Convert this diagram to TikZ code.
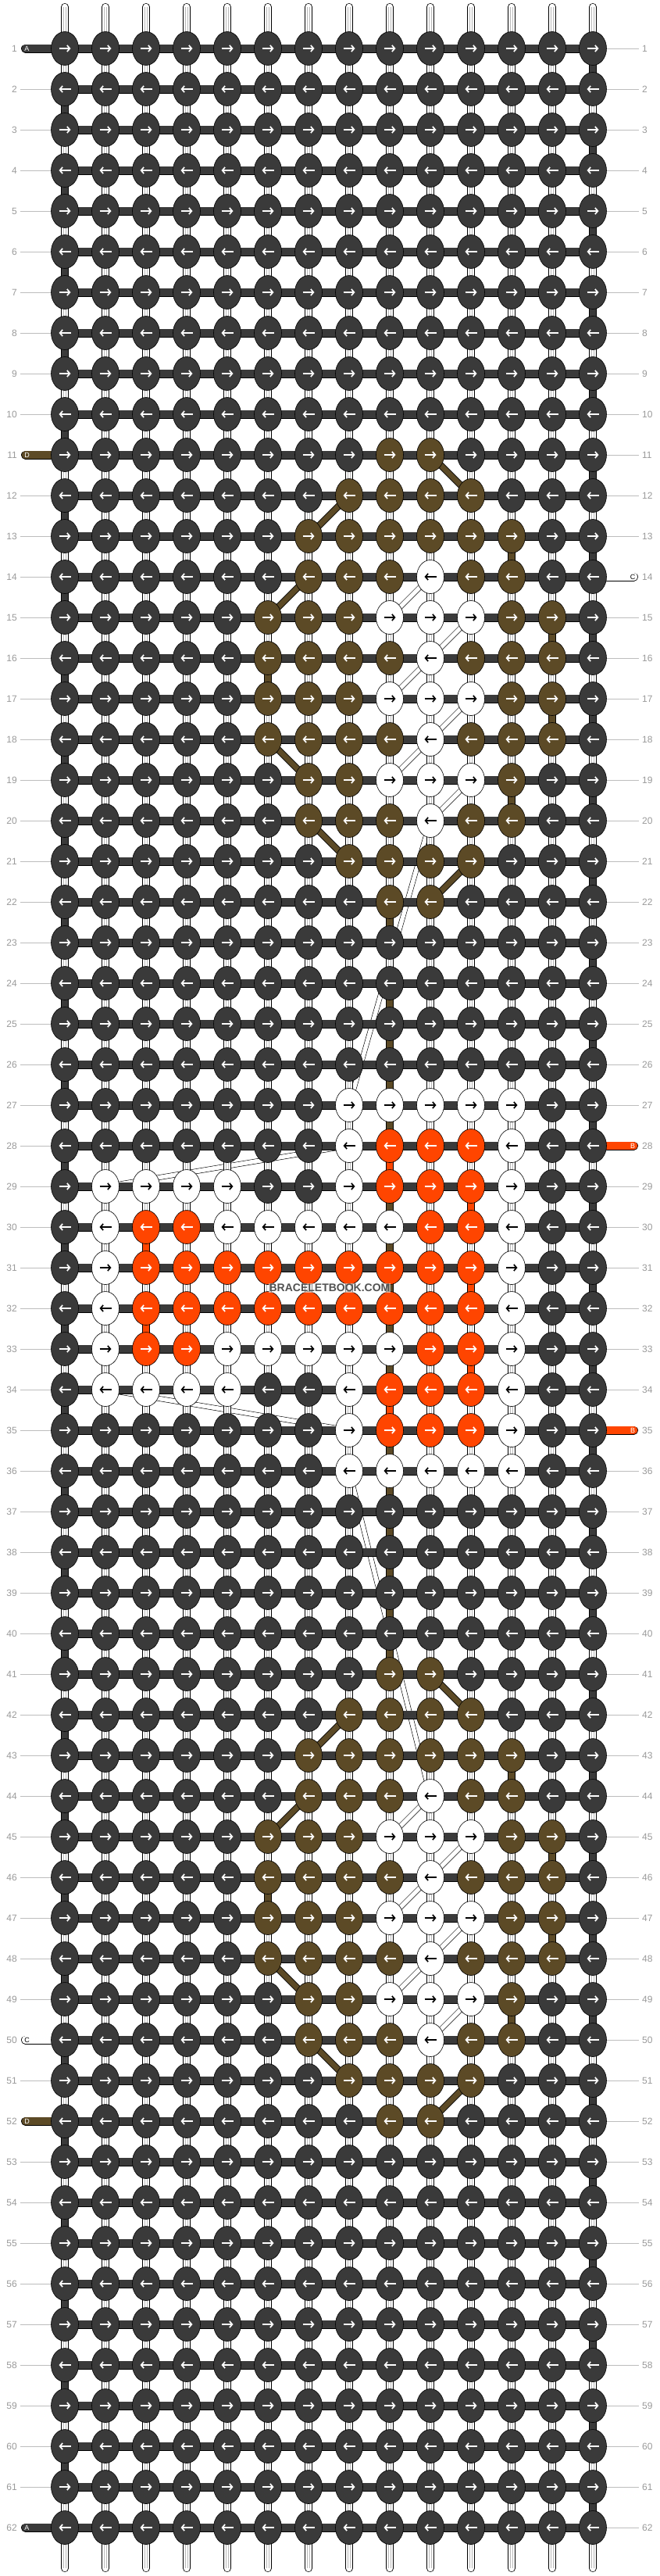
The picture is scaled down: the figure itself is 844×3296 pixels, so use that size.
\documentclass[tikz,border=0pt]{standalone}
\usepackage{fontspec}
\setmainfont{Liberation Sans}
\usepackage{xcolor}
\usetikzlibrary{arrows.meta, shapes.geometric}
\pgfdeclarelayer{background}
\pgfsetlayers{background,main}

\definecolor{colA}{HTML}{3A3A3A}
\definecolor{colB}{HTML}{FF4500}
\definecolor{colC}{HTML}{FFFFFF}
\definecolor{colD}{HTML}{5C4A26}
\definecolor{labelgray}{HTML}{9A9A9A}
\definecolor{linegray}{HTML}{BDBDBD}

% knot colour: \knotcol{row}{columns}{colour}
\newcommand{\knotcol}[3]{\foreach \kk in {#2}{\expandafter\xdef\csname kc-#1-\kk\endcsname{#3}}}
% string piece below a knot: \segcol{column}{rows}{colour}
\newcommand{\segcol}[3]{\foreach \kk in {#2}{\expandafter\xdef\csname sc-\kk-#1\endcsname{#3}}}
\def\whiteknot{colC}

% upper motif
\knotcol{11}{9,10}{colD}
\knotcol{12}{8,9,10,11}{colD}
\knotcol{13}{7,8,9,10,11,12}{colD}
\knotcol{14}{7,8,9,11,12}{colD} \knotcol{14}{10}{colC}
\knotcol{15}{6,7,8,12,13}{colD} \knotcol{15}{9,10,11}{colC}
\knotcol{16}{6,7,8,9,11,12,13}{colD} \knotcol{16}{10}{colC}
\knotcol{17}{6,7,8,12,13}{colD} \knotcol{17}{9,10,11}{colC}
\knotcol{18}{6,7,8,9,11,12,13}{colD} \knotcol{18}{10}{colC}
\knotcol{19}{7,8,12}{colD} \knotcol{19}{9,10,11}{colC}
\knotcol{20}{7,8,9,11,12}{colD} \knotcol{20}{10}{colC}
\knotcol{21}{8,9,10,11}{colD}
\knotcol{22}{9,10}{colD}
% middle motif
\knotcol{27}{8,...,12}{colC}
\knotcol{28}{8,12}{colC} \knotcol{28}{9,10,11}{colB}
\knotcol{29}{2,3,4,5,8,12}{colC} \knotcol{29}{9,10,11}{colB}
\knotcol{30}{2,5,6,7,8,9,12}{colC} \knotcol{30}{3,4,10,11}{colB}
\knotcol{31}{2,12}{colC} \knotcol{31}{3,...,11}{colB}
\knotcol{32}{2,12}{colC} \knotcol{32}{3,...,11}{colB}
\knotcol{33}{2,5,6,7,8,9,12}{colC} \knotcol{33}{3,4,10,11}{colB}
\knotcol{34}{2,3,4,5,8,12}{colC} \knotcol{34}{9,10,11}{colB}
\knotcol{35}{8,12}{colC} \knotcol{35}{9,10,11}{colB}
\knotcol{36}{8,...,12}{colC}
% lower motif
\knotcol{41}{9,10}{colD}
\knotcol{42}{8,9,10,11}{colD}
\knotcol{43}{7,8,9,10,11,12}{colD}
\knotcol{44}{7,8,9,11,12}{colD} \knotcol{44}{10}{colC}
\knotcol{45}{6,7,8,12,13}{colD} \knotcol{45}{9,10,11}{colC}
\knotcol{46}{6,7,8,9,11,12,13}{colD} \knotcol{46}{10}{colC}
\knotcol{47}{6,7,8,12,13}{colD} \knotcol{47}{9,10,11}{colC}
\knotcol{48}{6,7,8,9,11,12,13}{colD} \knotcol{48}{10}{colC}
\knotcol{49}{7,8,12}{colD} \knotcol{49}{9,10,11}{colC}
\knotcol{50}{7,8,9,11,12}{colD} \knotcol{50}{10}{colC}
\knotcol{51}{8,9,10,11}{colD}
\knotcol{52}{9,10}{colD}

% coloured string pieces
\segcol{1}{2,4,...,60}{colA}
\segcol{14}{1,3,...,61}{colA}
\segcol{12}{13,19,43,49}{colD}
\segcol{13}{15,17,45,47}{colD}
\segcol{6}{16,46}{colD}
\segcol{9}{22,24,25,26,27,29,30,31,32,33,35,36,37,38,39,40}{colD}
\segcol{9}{28,34}{colB}
\segcol{3}{30,32}{colB}
\segcol{11}{29,31,33}{colB}

% rows where a string comes in at the side
\foreach \kk in {1,11,50,52,62}{\expandafter\gdef\csname capL-\kk\endcsname{}}
\foreach \kk in {14,28,35}{\expandafter\gdef\csname capR-\kk\endcsname{}}

\begin{document}
\begin{tikzpicture}[x=1pt, y=-1pt,
    knot/.style={ellipse, draw=black, line width=0.6pt, minimum width=35pt, minimum height=43pt, inner sep=0pt},
    arr/.style={line width=1.7pt, -{Straight Barb[length=3.5pt, width=8pt]}},
    hbar/.style={draw=black, line width=0.7pt, double=colA, double distance=9.6pt},
    vseg/.style={draw=black, line width=0.7pt, double distance=8.6pt},
    vcore/.style={draw=black!28, line width=0.6pt, double=white, double distance=2.4pt},
    gap/.style={shorten <=-5pt, shorten >=-5pt},
    dband/.style={draw=black, line width=0.8pt, double=colD, double distance=7pt},
    cband/.style={draw=black, line width=0.6pt, double=white, double distance=5.5pt},
    endstr/.style={draw=black, line width=0.7pt, double=white, double distance=8.6pt, line cap=round},
    sidestr/.style={draw=black, line width=0.7pt, double distance=9.6pt, line cap=round},
    rowline/.style={draw=linegray, line width=0.8pt},
    rownum/.style={text=labelgray, font=\fontsize{12}{12}\selectfont, inner sep=0pt},
    strlabel/.style={font=\fontsize{9}{9}\selectfont, inner sep=0pt}
  ]
  \useasboundingbox (0,0) rectangle (844,3296);

  % Knots
  \foreach \rw in {1,...,62}{
    \foreach \cl in {1,...,14}{
      \ifcsname kc-\rw-\cl\endcsname
        \edef\knotc{\csname kc-\rw-\cl\endcsname}
      \else
        \def\knotc{colA}
      \fi
      \node[knot, fill=\knotc] (k\rw-\cl) at ({31+52*\cl},{10+52*\rw}) {};
      \ifx\knotc\whiteknot \def\arrc{black}\else \def\arrc{white}\fi
      \ifodd\rw
        \draw[arr, \arrc] ([xshift=-7.5pt]k\rw-\cl.center) -- ([xshift=7.5pt]k\rw-\cl.center);
      \else
        \draw[arr, \arrc] ([xshift=7.5pt]k\rw-\cl.center) -- ([xshift=-7.5pt]k\rw-\cl.center);
      \fi
    }
  }

  \begin{pgfonlayer}{background}
    \fill[white] (0,0) rectangle (844,3296);

    % Strings passing behind
    \foreach \ra/\ca/\rb/\cb in {14/10/15/9, 15/11/16/10, 16/10/17/9, 17/11/18/10, 18/10/19/9, 19/11/20/10,
        20/10/27/8, 28/8/29/2, 34/2/35/8, 36/8/44/10,
        44/10/45/9, 45/11/46/10, 46/10/47/9, 47/11/48/10, 48/10/49/9, 49/11/50/10}
      \draw[cband] (k\ra-\ca.center) -- (k\rb-\cb.center);
    \foreach \ra/\ca/\rb/\cb in {11/10/12/11, 12/8/13/7, 14/7/15/6, 18/6/19/7, 20/7/21/8, 21/11/22/10,
        41/10/42/11, 42/8/43/7, 44/7/45/6, 48/6/49/7, 50/7/51/8, 51/11/52/10}
      \draw[dband] (k\ra-\ca.center) -- (k\rb-\cb.center);

    % String pieces between rows
    \foreach \rw [evaluate=\rw as \nx using int(\rw+1)] in {1,...,61}{
      \foreach \cl in {1,...,14}{
        \ifcsname sc-\rw-\cl\endcsname
          \edef\segc{\csname sc-\rw-\cl\endcsname}
          \draw[vseg, gap, double=\segc] (k\rw-\cl.south) -- (k\nx-\cl.north);
        \else
          \draw[vseg, gap, double=white] (k\rw-\cl.south) -- (k\nx-\cl.north);
          \draw[vcore, gap] (k\rw-\cl.south) -- (k\nx-\cl.north);
        \fi
      }
    }

    % Loose ends at top and bottom
    \foreach \cl in {1,...,14}{
      \coordinate (t\cl) at ({31+52*\cl},9);
      \coordinate (b\cl) at ({31+52*\cl},3286);
      \draw[endstr] (t\cl) -- (k1-\cl.center);
      \draw[vcore] (t\cl) -- (k1-\cl.center);
      \draw[endstr] (k62-\cl.center) -- (b\cl);
      \draw[vcore] (k62-\cl.center) -- (b\cl);
    }

    % Working string across each row
    \foreach \rw in {1,...,62}
      \draw[hbar] (k\rw-1.center) -- (k\rw-14.center);

    % Strings coming in at the sides
    \foreach \rw/\sc/\tc/\lt in {1/colA/white/A, 11/colD/white/D, 50/colC/black/C, 52/colD/white/D, 62/colA/white/A}{
      \coordinate (sl\rw) at (32.5,{10+52*\rw});
      \draw[sidestr, double=\sc] (sl\rw) -- (k\rw-1.center);
    }
    \foreach \rw/\sc/\tc/\lt in {14/colC/black/C, 28/colB/white/B, 35/colB/white/B}{
      \coordinate (sr\rw) at (811.5,{10+52*\rw});
      \draw[sidestr, double=\sc] (k\rw-14.center) -- (sr\rw);
    }
  \end{pgfonlayer}

  % Side string letters
  \foreach \rw/\tc/\lt in {1/white/A, 11/white/D, 50/black/C, 52/white/D, 62/white/A}
    \node[strlabel, text=\tc] (sll\rw) at (34.5,{10+52*\rw}) {\lt};
  \foreach \rw/\tc/\lt in {14/black/C, 28/white/B, 35/white/B}
    \node[strlabel, text=\tc] (srl\rw) at (810,{10+52*\rw}) {\lt};

  % Row numbers
  \foreach \rw in {1,...,62}{
    \node[rownum, anchor=east] (nl\rw) at (22,{10+52*\rw}) {\rw};
    \node[rownum, anchor=west] (nr\rw) at (822,{10+52*\rw}) {\rw};
    \ifcsname capL-\rw\endcsname\else
      \coordinate (ll\rw) at (26,{10+52*\rw});
      \draw[rowline] (ll\rw) -- (k\rw-1.west);
    \fi
    \ifcsname capR-\rw\endcsname\else
      \coordinate (lr\rw) at (818,{10+52*\rw});
      \draw[rowline] (k\rw-14.east) -- (lr\rw);
    \fi
  }

  % Watermark
  \node[font=\fontsize{14}{14}\selectfont\bfseries, text=black!68, fill=white, fill opacity=0.55, text opacity=1, inner sep=1pt] (wm) at (422,1648) {BRACELETBOOK.COM};

\end{tikzpicture}
\end{document}
